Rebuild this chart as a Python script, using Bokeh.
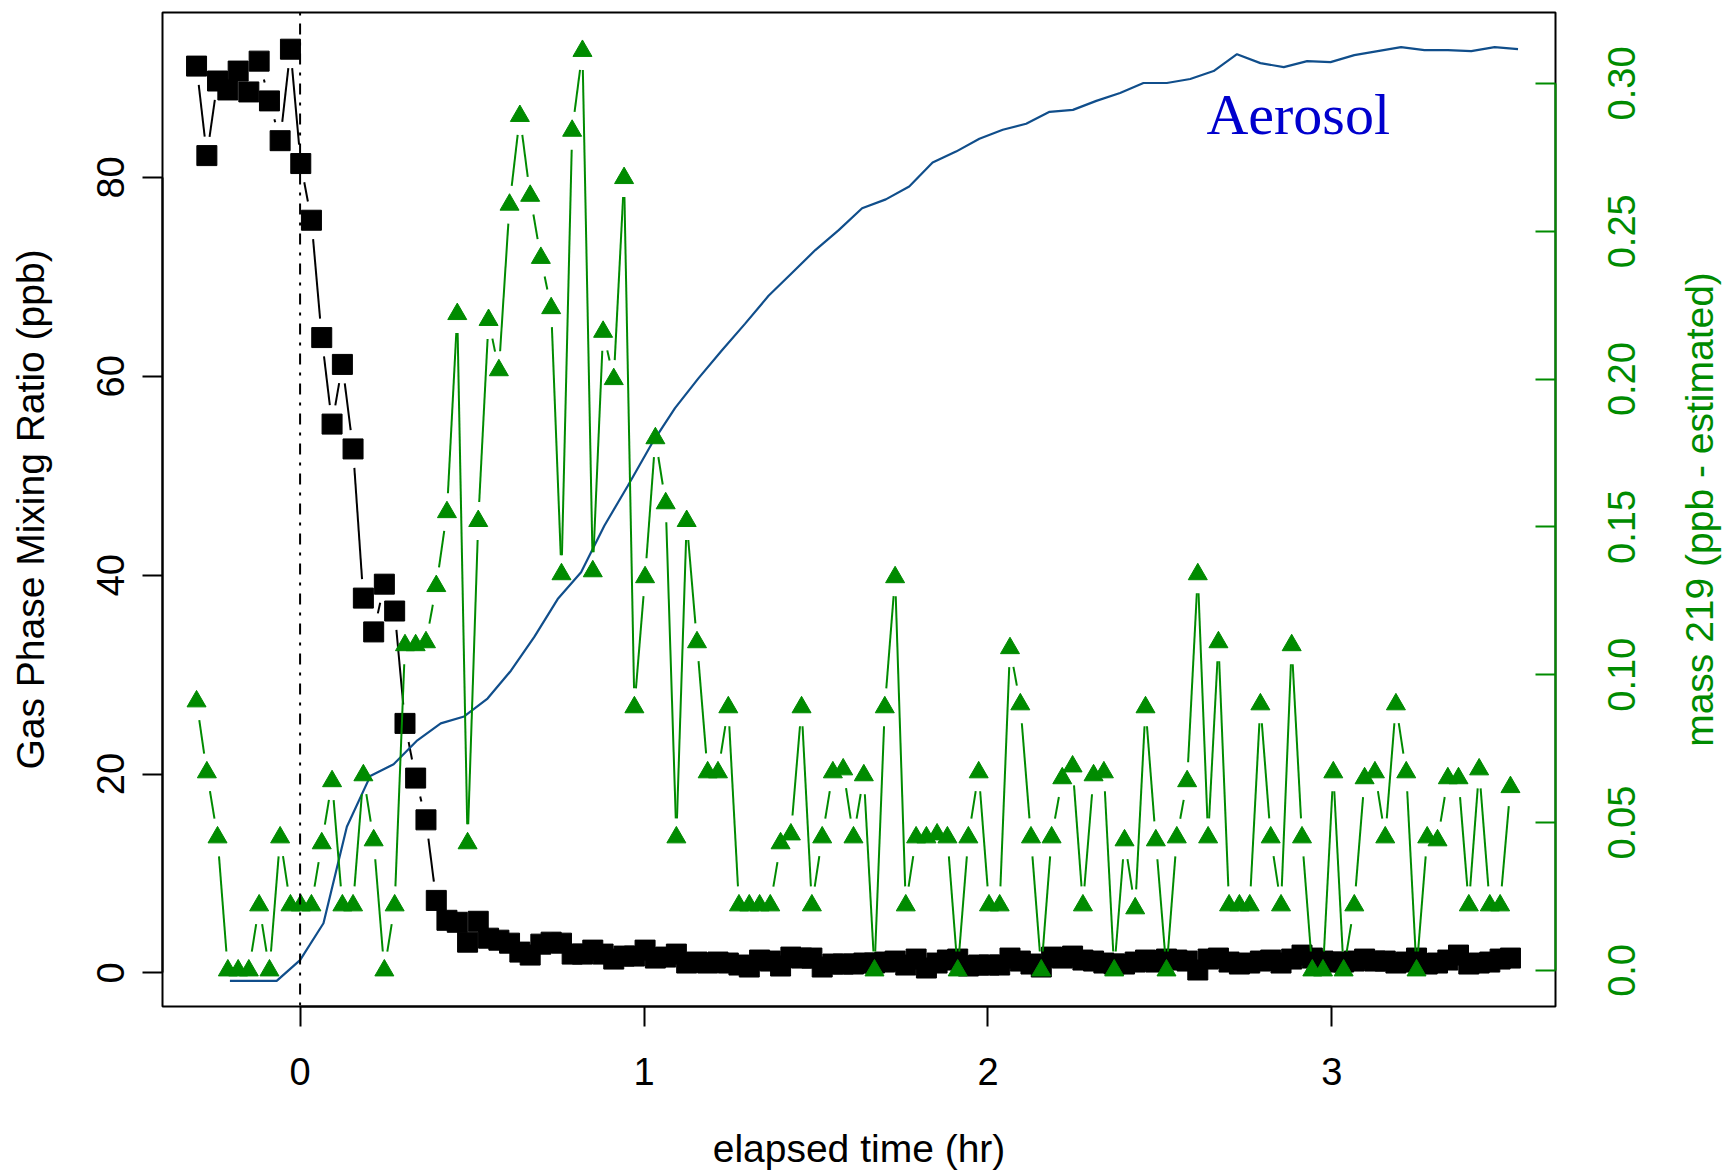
import math
from bokeh.plotting import figure
from bokeh.layouts import row, column
from bokeh.models import (Range1d, LinearAxis, Span, Label, FixedTicker,
                          CustomJSTickFormatter, ColumnDataSource)
from bokeh.core.properties import value
from bokeh.embed import file_html
from bokeh.resources import INLINE

# ---------------- data ----------------
time_hr = [
    -0.301, -0.271, -0.240, -0.210, -0.180, -0.149, -0.119, -0.089, -0.058, -0.028,
    0.002, 0.033, 0.063, 0.093, 0.123, 0.154, 0.184, 0.214, 0.245, 0.275,
    0.305, 0.336, 0.366, 0.396, 0.427, 0.457, 0.487, 0.518, 0.548, 0.578,
    0.609, 0.639, 0.669, 0.700, 0.730, 0.760, 0.791, 0.821, 0.851, 0.881,
    0.912, 0.942, 0.972, 1.003, 1.033, 1.063, 1.094, 1.124, 1.154, 1.185,
    1.215, 1.245, 1.276, 1.306, 1.336, 1.367, 1.397, 1.427, 1.458, 1.488,
    1.518, 1.549, 1.579, 1.609, 1.639, 1.670, 1.700, 1.730, 1.761, 1.791,
    1.821, 1.852, 1.882, 1.912, 1.943, 1.973, 2.003, 2.034, 2.064, 2.094,
    2.125, 2.155, 2.185, 2.216, 2.246, 2.276, 2.307, 2.337, 2.367, 2.397,
    2.428, 2.458, 2.488, 2.519, 2.549, 2.579, 2.610, 2.640, 2.670, 2.701,
    2.731, 2.761, 2.792, 2.822, 2.852, 2.883, 2.913, 2.943, 2.974, 3.004,
    3.034, 3.065, 3.095, 3.125, 3.155, 3.186, 3.216, 3.246, 3.277, 3.307,
    3.337, 3.368, 3.398, 3.428, 3.459, 3.489, 3.519,
]

gas_phase_ppb = [
    91.2, 82.2, 89.7, 88.8, 90.7, 88.6, 91.7, 87.7, 83.7, 92.9,
    81.4, 75.7, 63.9, 55.2, 61.2, 52.7, 37.7, 34.3, 39.1, 36.4,
    25.1, 19.6, 15.4, 7.3, 5.3, 5.1, 3.1, 5.2, 3.5, 3.3,
    3.0, 2.1, 1.8, 2.9, 3.1, 3.0, 1.9, 1.9, 2.3, 1.9,
    1.4, 1.7, 1.7, 2.3, 1.5, 1.6, 1.9, 1.0, 1.1, 1.0,
    1.1, 1.0, 0.8, 0.6, 1.3, 1.2, 0.7, 1.6, 1.5, 1.5,
    0.6, 0.9, 0.9, 0.9, 1.0, 1.0, 1.1, 1.2, 0.8, 1.4,
    0.5, 1.0, 1.3, 1.4, 0.7, 0.8, 0.8, 0.8, 1.5, 1.2,
    0.9, 0.6, 1.6, 1.5, 1.7, 1.3, 1.2, 1.0, 0.9, 0.9,
    1.1, 1.3, 1.1, 1.4, 1.3, 1.2, 0.3, 1.4, 1.5, 1.1,
    0.9, 1.0, 1.2, 1.3, 1.0, 1.4, 1.8, 1.5, 1.2, 1.1,
    1.1, 1.2, 1.4, 1.2, 1.2, 1.0, 1.1, 1.5, 0.9, 1.0,
    1.3, 1.8, 0.9, 1.0, 1.1, 1.4, 1.5,
]

mass219_ppb = [
    0.091, 0.067, 0.045, 0.0, 0.0, 0.0, 0.022, 0.0, 0.045, 0.022,
    0.022, 0.022, 0.043, 0.064, 0.022, 0.022, 0.066, 0.044, 0.0, 0.022,
    0.110, 0.110, 0.111, 0.130, 0.155, 0.222, 0.043, 0.152, 0.220, 0.203,
    0.259, 0.289, 0.262, 0.241, 0.224, 0.134, 0.284, 0.311, 0.135, 0.216,
    0.200, 0.268, 0.089, 0.133, 0.180, 0.158, 0.045, 0.152, 0.111, 0.067,
    0.067, 0.089, 0.022, 0.022, 0.022, 0.022, 0.043, 0.046, 0.089, 0.022,
    0.045, 0.067, 0.068, 0.045, 0.066, 0.0, 0.089, 0.133, 0.022, 0.045,
    0.045, 0.046, 0.045, 0.0, 0.045, 0.067, 0.022, 0.022, 0.109, 0.090,
    0.045, 0.0, 0.045, 0.065, 0.069, 0.022, 0.066, 0.067, 0.0, 0.044,
    0.021, 0.089, 0.044, 0.0, 0.045, 0.064, 0.134, 0.045, 0.111, 0.022,
    0.022, 0.022, 0.090, 0.045, 0.022, 0.110, 0.045, 0.0, 0.0, 0.067,
    0.0, 0.022, 0.065, 0.067, 0.045, 0.090, 0.067, 0.0, 0.045, 0.044,
    0.065, 0.065, 0.022, 0.068, 0.022, 0.022, 0.062,
]

aerosol_time_hr = [
    -0.204, -0.136, -0.068, 0.000, 0.068, 0.136, 0.204, 0.272, 0.341, 0.409,
    0.477, 0.545, 0.613, 0.681, 0.749, 0.817, 0.885, 0.953, 1.022, 1.090,
    1.158, 1.226, 1.294, 1.362, 1.430, 1.498, 1.566, 1.634, 1.703, 1.771,
    1.839, 1.907, 1.975, 2.043, 2.111, 2.179, 2.247, 2.315, 2.384, 2.452,
    2.520, 2.588, 2.656, 2.724, 2.792, 2.860, 2.928, 2.996, 3.065, 3.133,
    3.201, 3.269, 3.337, 3.405, 3.473, 3.541,
]

aerosol_signal = [
    -0.8, -0.8, -0.8, 1.3, 5.0, 14.7, 19.8, 21.0, 23.4, 25.1,
    25.8, 27.6, 30.4, 33.8, 37.6, 40.3, 45.0, 49.0, 53.2, 56.8,
    59.8, 62.6, 65.3, 68.1, 70.4, 72.7, 74.7, 76.9, 77.8, 79.1,
    81.5, 82.6, 83.9, 84.8, 85.4, 86.6, 86.8, 87.7, 88.5, 89.5,
    89.5, 89.9, 90.7, 92.4, 91.5, 91.1, 91.7, 91.6, 92.3, 92.7,
    93.1, 92.8, 92.8, 92.7, 93.1, 92.9,
]

x_ticks = [0, 1, 2, 3]
left_ticks = [0, 20, 40, 60, 80]
right_ticks = [0.0, 0.05, 0.10, 0.15, 0.20, 0.25, 0.30]
right_tick_labels = ["0.0", "0.05", "0.10", "0.15", "0.20", "0.25", "0.30"]

x_title = "elapsed time (hr)"
left_title = "Gas Phase Mixing Ratio (ppb)"
right_title = "mass 219 (ppb - estimated)"
aerosol_label = "Aerosol"

# ---------------- styling / layout ----------------
GREEN = "#008B00"
BLUE_LINE = "#104E8B"
LABEL_BLUE = "#0000CD"
FONT = "Liberation Sans"
FS = "38px"
TFS = "39px"

W, H = 1723, 1171
LEFT_W, RIGHT_W, BOTTOM_H = 60, 143, 51          # margin strips holding titles / labels
MAIN_W, MAIN_H = W - LEFT_W - RIGHT_W, H - BOTTOM_H
FRAME_L, FRAME_R, FRAME_T, FRAME_B = 162, 1555, 12, 1006   # plot box on the page
FW, FH = FRAME_R - FRAME_L, FRAME_B - FRAME_T

X0, X1 = -0.40, 3.65
YL0, YL1 = -3.37, 96.59
YR0, YR1 = -0.0122, 0.324

sx = FW / (X1 - X0)
syl = FH / (YL1 - YL0)
syr = FH / (YR1 - YR0)

common = dict(output_backend="svg", toolbar_location=None)


def strip(width, height, xr, yr, top, bottom):
    f = figure(width=width, height=height, x_range=xr, y_range=yr,
               x_axis_location=None, y_axis_location=None,
               min_border_left=0, min_border_right=0,
               min_border_top=top, min_border_bottom=bottom, **common)
    f.outline_line_color = None
    f.background_fill_color = "white"
    f.border_fill_color = "white"
    f.grid.visible = False
    return f


# ---------------- main plot ----------------
p = figure(width=MAIN_W, height=MAIN_H, x_range=Range1d(X0, X1), y_range=Range1d(YL0, YL1),
           min_border_left=FRAME_L - LEFT_W, min_border_right=W - RIGHT_W - FRAME_R,
           min_border_top=FRAME_T, min_border_bottom=MAIN_H - FRAME_B, **common)
p.extra_y_ranges = {"r": Range1d(YR0, YR1)}
p.grid.visible = False
p.background_fill_color = "white"
p.border_fill_color = "white"
p.outline_line_color = "black"
p.outline_line_width = 2


def style_axis(ax, color):
    ax.axis_line_color = color
    ax.axis_line_width = 2
    ax.major_tick_line_color = color
    ax.major_tick_line_width = 2
    ax.minor_tick_line_color = None
    ax.major_label_text_color = color
    ax.major_label_text_font = FONT
    ax.major_label_text_font_size = FS


xa = p.xaxis[0]
style_axis(xa, "black")
xa.ticker = FixedTicker(ticks=x_ticks)
xa.bounds = (x_ticks[0], x_ticks[-1])
xa.major_tick_out = 20
xa.major_tick_in = 0
xa.major_label_standoff = 31

ya = p.yaxis[0]
style_axis(ya, "black")
ya.ticker = FixedTicker(ticks=left_ticks)
ya.bounds = (left_ticks[0], left_ticks[-1])
ya.major_tick_out = 20
ya.major_tick_in = 0
ya.major_label_orientation = "vertical"
ya.major_label_standoff = 18

# right axis: green line and inward ticks (its labels are drawn in the right strip)
ra = LinearAxis(y_range_name="r")
style_axis(ra, GREEN)
ra.ticker = FixedTicker(ticks=right_ticks)
ra.bounds = (right_ticks[0], right_ticks[-1])
ra.major_tick_out = 0
ra.major_tick_in = 20
ra.major_label_standoff = 0
ra.major_label_text_font_size = "1px"
ra.formatter = CustomJSTickFormatter(code="return '';")
p.add_layout(ra, "right")

GAP = 19.0


def gapped(xs, ys, sy):
    """R type='b': connecting lines stop GAP pixels short of each point."""
    x0s, y0s, x1s, y1s = [], [], [], []
    for i in range(len(xs) - 1):
        dx, dy = xs[i + 1] - xs[i], ys[i + 1] - ys[i]
        d = math.hypot(dx * sx, dy * sy)
        if d <= 2 * GAP:
            continue
        f = GAP / d
        x0s.append(xs[i] + dx * f)
        y0s.append(ys[i] + dy * f)
        x1s.append(xs[i + 1] - dx * f)
        y1s.append(ys[i + 1] - dy * f)
    return dict(x0=x0s, y0=y0s, x1=x1s, y1=y1s)


p.add_layout(Span(location=0, dimension="height", line_color="black",
                  line_width=2, line_dash="3 8 11 8"))

p.segment("x0", "y0", "x1", "y1", source=ColumnDataSource(gapped(time_hr, gas_phase_ppb, syl)),
          line_color="black", line_width=2)
p.scatter(time_hr, gas_phase_ppb, marker="square", size=20, color="black")

p.line(aerosol_time_hr, aerosol_signal, line_color=BLUE_LINE, line_width=2.2)

p.segment("x0", "y0", "x1", "y1", source=ColumnDataSource(gapped(time_hr, mass219_ppb, syr)),
          line_color=GREEN, line_width=2, y_range_name="r")
p.scatter(time_hr, mass219_ppb, marker="triangle", size=19, color=GREEN, y_range_name="r")

p.add_layout(Label(x=2.902, y=86.3, text=aerosol_label, text_align="center",
                   text_baseline="alphabetic", text_font="Liberation Serif",
                   text_font_size="58px", text_color=LABEL_BLUE))

# ---------------- margin strips ----------------
TEXT_SHIFT = 3.4   # em-box middle vs. ink centre of a text line, px

# left strip: y title (same vertical scale as the main plot)
pl = strip(LEFT_W, MAIN_H, Range1d(0, LEFT_W), Range1d(YL0, YL1), FRAME_T, MAIN_H - FRAME_B)
y_mid_left = YL0 + (FRAME_B - (FRAME_T + FRAME_B) / 2) / syl
pl.text(x=[33 - TEXT_SHIFT], y=[y_mid_left], text=[left_title], angle=math.pi / 2,
        text_align="center", text_baseline="middle", text_font=value(FONT),
        text_font_size=value(TFS), text_color="black")

# right strip: tick labels and title of the right axis (same scale as the right axis)
pr = strip(RIGHT_W, MAIN_H, Range1d(0, RIGHT_W), Range1d(YR0, YR1), FRAME_T, MAIN_H - FRAME_B)
pr.text(x=[1621 - (W - RIGHT_W)] * len(right_ticks), y=right_ticks, text=right_tick_labels,
        angle=math.pi / 2, text_align="center", text_baseline="middle",
        text_font=value(FONT), text_font_size=value(FS), text_color=GREEN)
y_mid_right = YR0 + (FRAME_B - (FRAME_T + FRAME_B) / 2) / syr
pr.text(x=[1702 - TEXT_SHIFT - (W - RIGHT_W)], y=[y_mid_right], text=[right_title],
        angle=math.pi / 2, text_align="center", text_baseline="middle",
        text_font=value(FONT), text_font_size=value(TFS), text_color=GREEN)

# bottom strip: x title (same horizontal scale as the main plot)
pb = strip(W, BOTTOM_H, Range1d(X0 - FRAME_L / sx, X0 + (W - FRAME_L) / sx),
           Range1d(0, BOTTOM_H), 0, 0)
pb.text(x=[(X0 + X1) / 2], y=[BOTTOM_H - (1151 - TEXT_SHIFT - MAIN_H)], text=[x_title],
        text_align="center", text_baseline="middle", text_font=value(FONT),
        text_font_size=value(TFS), text_color="black")

layout = column(row(pl, p, pr), pb)
open("out.html", "w").write(file_html(layout, INLINE))
